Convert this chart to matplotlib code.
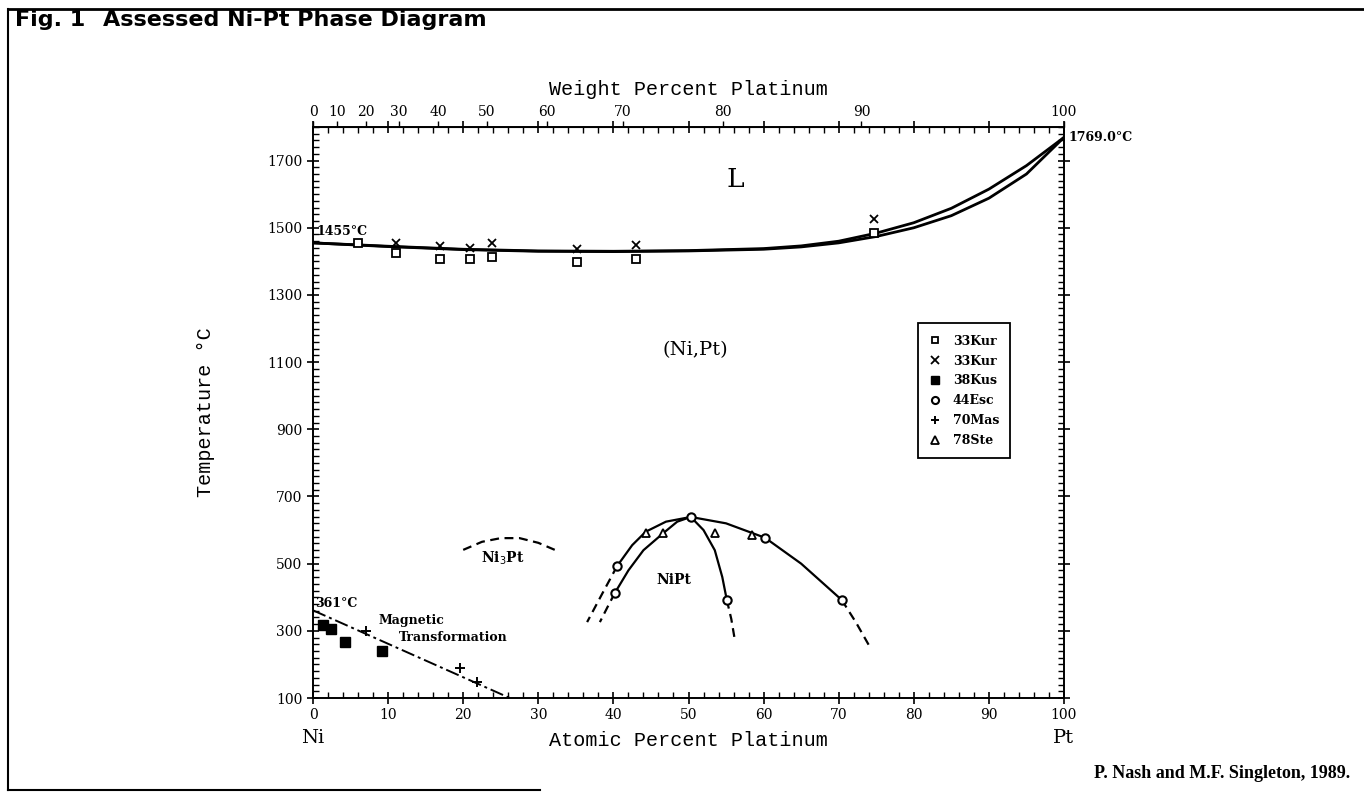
import numpy as np
import matplotlib
matplotlib.use('Agg')
import matplotlib.pyplot as plt
from matplotlib.ticker import MultipleLocator, FixedLocator
from matplotlib.lines import Line2D

# liquidus and solidus, at.% Pt vs deg C
liq_x = [0, 10, 20, 30, 40, 50, 60, 65, 70, 75, 80, 85, 90, 95, 100]
liq_t = [1455, 1445, 1436, 1431, 1430, 1432, 1438, 1446, 1460, 1484, 1515, 1558, 1615, 1685, 1769]
sol_x = [0, 10, 20, 30, 40, 50, 60, 65, 70, 75, 80, 85, 90, 95, 100]
sol_t = [1455, 1444, 1435, 1430, 1429, 1431, 1436, 1443, 1455, 1474, 1500, 1536, 1588, 1660, 1769]

# Ni3Pt ordering dome (dashed)
ni3pt_x = [20.0, 22.5, 25.0, 27.5, 30.0, 32.2]
ni3pt_t = [541, 565, 576, 576, 562, 541]

# NiPt ordering boundaries, solid parts
nipt_a_x = [40.5, 42.5, 44.3, 47.0, 50.3]
nipt_a_t = [493, 555, 595, 625, 639]
nipt_b_x = [40.2, 42.0, 44.0, 46.6, 48.5, 50.3]
nipt_b_t = [413, 480, 540, 590, 625, 639]
nipt_c_x = [50.3, 52.0, 53.5, 54.5, 55.1]
nipt_c_t = [639, 600, 540, 460, 392]
nipt_d_x = [50.3, 55.0, 60.2, 65.0, 70.4]
nipt_d_t = [639, 620, 577, 500, 392]
# dashed extrapolations
nipt_a_dx = [40.5, 38.5, 36.5]
nipt_a_dt = [493, 410, 326]
nipt_b_dx = [40.2, 39.2, 38.2]
nipt_b_dt = [413, 370, 326]
nipt_c_dx = [55.1, 55.7, 56.1]
nipt_c_dt = [392, 335, 282]
nipt_d_dx = [70.4, 72.3, 74.0]
nipt_d_dt = [392, 325, 258]

# magnetic transformation
mag_x = [0, 26.2]
mag_t = [361, 100]

# experimental points
kur_sq_x = [6.0, 11.0, 16.9, 20.9, 23.8, 35.1, 43.0, 74.7]
kur_sq_t = [1456, 1425, 1408, 1406, 1414, 1398, 1408, 1485]
kur_x_x = [11.0, 16.9, 20.9, 23.8, 35.1, 43.0, 74.7]
kur_x_t = [1455, 1446, 1440, 1454, 1436, 1450, 1525]
kus_x = [1.3, 2.4, 4.3, 9.2]
kus_t = [318, 306, 267, 240]
esc_x = [50.3, 40.5, 40.2, 55.1, 60.2, 70.4]
esc_t = [639, 493, 413, 392, 577, 392]
mas_x = [7.1, 19.6, 21.8]
mas_t = [300, 189, 148]
ste_x = [44.3, 46.6, 53.5, 58.5]
ste_t = [592, 592, 592, 586]

wt_ticks = [0, 10, 20, 30, 40, 50, 60, 70, 80, 90, 100]

M_NI = 58.69
M_PT = 195.08


def at_to_wt(a):
    a = np.clip(np.asarray(a, dtype=float), 0, 100)
    return 100 * a * M_PT / (a * M_PT + (100 - a) * M_NI)


def wt_to_at(w):
    w = np.clip(np.asarray(w, dtype=float), 0, 100)
    return 100 * (w / M_PT) / (w / M_PT + (100 - w) / M_NI)


W, H = 1364, 807
fig = plt.figure(figsize=(W / 100, H / 100), dpi=100)


def fx(px):
    return px / W


def fy(py):
    return 1 - py / H


ax = fig.add_axes([fx(313), fy(698), fx(1064) - fx(313), fy(127) - fy(698)])
ax.set_xlim(0, 100)
ax.set_ylim(100, 1800)

serif = 'DejaVu Serif'
mono = 'Liberation Mono'

lw = 2.0
ax.plot(liq_x, liq_t, color='k', lw=lw)
ax.plot(sol_x, sol_t, color='k', lw=lw)
ax.plot(ni3pt_x, ni3pt_t, color='k', lw=1.6, ls=(0, (4, 2.5)))
for xs, ts in [(nipt_a_x, nipt_a_t), (nipt_b_x, nipt_b_t),
               (nipt_c_x, nipt_c_t), (nipt_d_x, nipt_d_t)]:
    ax.plot(xs, ts, color='k', lw=1.6)
for xs, ts in [(nipt_a_dx, nipt_a_dt), (nipt_b_dx, nipt_b_dt),
               (nipt_c_dx, nipt_c_dt), (nipt_d_dx, nipt_d_dt)]:
    ax.plot(xs, ts, color='k', lw=1.6, ls=(0, (4, 2.5)))
ax.plot(mag_x, mag_t, color='k', lw=1.4, ls=(0, (7, 2, 1.5, 2)))

mk = dict(color='k', ls='none', clip_on=False)
h1, = ax.plot(kur_sq_x, kur_sq_t, marker='s', ms=5.5, mfc='white', mew=1.3, label='33Kur', **mk)
h2, = ax.plot(kur_x_x, kur_x_t, marker='x', ms=6, mew=1.3, label='33Kur', **mk)
h3, = ax.plot(kus_x, kus_t, marker='s', ms=7, label='38Kus', **mk)
h4, = ax.plot(esc_x, esc_t, marker='o', ms=6, mfc='white', mew=1.5, label='44Esc', **mk)
h5, = ax.plot(mas_x, mas_t, marker='+', ms=7.5, mew=1.4, label='70Mas', **mk)
h6, = ax.plot(ste_x, ste_t, marker='^', ms=6, mfc='white', mew=1.3, label='78Ste', **mk)

leg = ax.legend(handles=[h1, h2, h3, h4, h5, h6], loc='upper left',
                bbox_to_anchor=(0.797, 0.667), frameon=True, fancybox=False,
                edgecolor='k', framealpha=1, handlelength=1.0, handletextpad=0.9,
                borderpad=0.9, labelspacing=0.55, markerscale=0.85,
                prop={'family': serif, 'weight': 'bold', 'size': 9})
leg.get_frame().set_linewidth(1.3)

# ticks
ax.xaxis.set_major_locator(MultipleLocator(10))
ax.xaxis.set_minor_locator(MultipleLocator(2))
ax.yaxis.set_major_locator(FixedLocator(np.arange(100, 1701, 200)))
ax.yaxis.set_minor_locator(MultipleLocator(20))
ax.tick_params(which='major', direction='inout', length=9, width=1.2,
               top=True, right=True, labelsize=10, pad=3)
ax.tick_params(which='minor', direction='in', length=4, width=1.0,
               top=True, right=True)
for lab in ax.get_xticklabels() + ax.get_yticklabels():
    lab.set_family(serif)
for s in ax.spines.values():
    s.set_linewidth(1.4)

sec = ax.secondary_xaxis('top', functions=(at_to_wt, wt_to_at))
sec.set_xticks(wt_ticks)
sec.tick_params(direction='out', length=4, width=1.0, labelsize=10, pad=2)
for lab in sec.get_xticklabels():
    lab.set_family(serif)
sec.set_xlabel('Weight Percent Platinum', family=mono, fontsize=14.5, labelpad=7)

ax.set_xlabel('Atomic Percent Platinum', family=mono, fontsize=14.5, labelpad=6)
ax.set_ylabel('Temperature \u00b0C', family=mono, fontsize=14.5, labelpad=38)

# labels inside the plot
ax.text(56.2, 1644, 'L', family=serif, fontsize=19, ha='center', va='center')
ax.text(50.9, 1137, '(Ni,Pt)', family=serif, fontsize=14, ha='center', va='center')
ax.text(25.3, 517, 'Ni$_3$Pt', family=serif, fontsize=10, weight='bold',
        ha='center', va='center')
ax.text(48.0, 452, 'NiPt', family=serif, fontsize=10, weight='bold',
        ha='center', va='center')
ax.text(0.4, 1488, '1455\u00b0C', family=serif, fontsize=9, weight='bold',
        ha='left', va='center')
ax.text(0.3, 382, '361\u00b0C', family=serif, fontsize=9, weight='bold',
        ha='left', va='center')
ax.text(8.7, 332, 'Magnetic', family=serif, fontsize=9, weight='bold',
        ha='left', va='center')
ax.text(11.5, 280, 'Transformation', family=serif, fontsize=9, weight='bold',
        ha='left', va='center')
ax.text(100.6, 1769, '1769.0\u00b0C', family=serif, fontsize=9, weight='bold',
        ha='left', va='center', clip_on=False)

# figure texts
fig.text(fx(313), fy(738), 'Ni', family=serif, fontsize=14, ha='center', va='center')
fig.text(fx(1064), fy(738), 'Pt', family=serif, fontsize=14, ha='center', va='center')
fig.text(fx(15), fy(20), 'Fig. 1', family='DejaVu Sans', weight='bold',
         fontsize=16, ha='left', va='center')
fig.text(fx(103), fy(20), 'Assessed Ni-Pt Phase Diagram', family='DejaVu Sans',
         weight='bold', fontsize=16, ha='left', va='center')
fig.text(fx(1350), fy(773), 'P. Nash and M.F. Singleton, 1989.',
         family='Liberation Serif', weight='bold', fontsize=13, ha='right', va='center')

# frame around the figure
fig.add_artist(Line2D([fx(8), fx(1364)], [fy(9), fy(9)], color='k', lw=2))
fig.add_artist(Line2D([fx(8), fx(8)], [fy(9), fy(790)], color='k', lw=1.5))
fig.add_artist(Line2D([fx(8), fx(540)], [fy(790), fy(790)], color='k', lw=1.5))

fig.savefig('out.png', dpi=100)
